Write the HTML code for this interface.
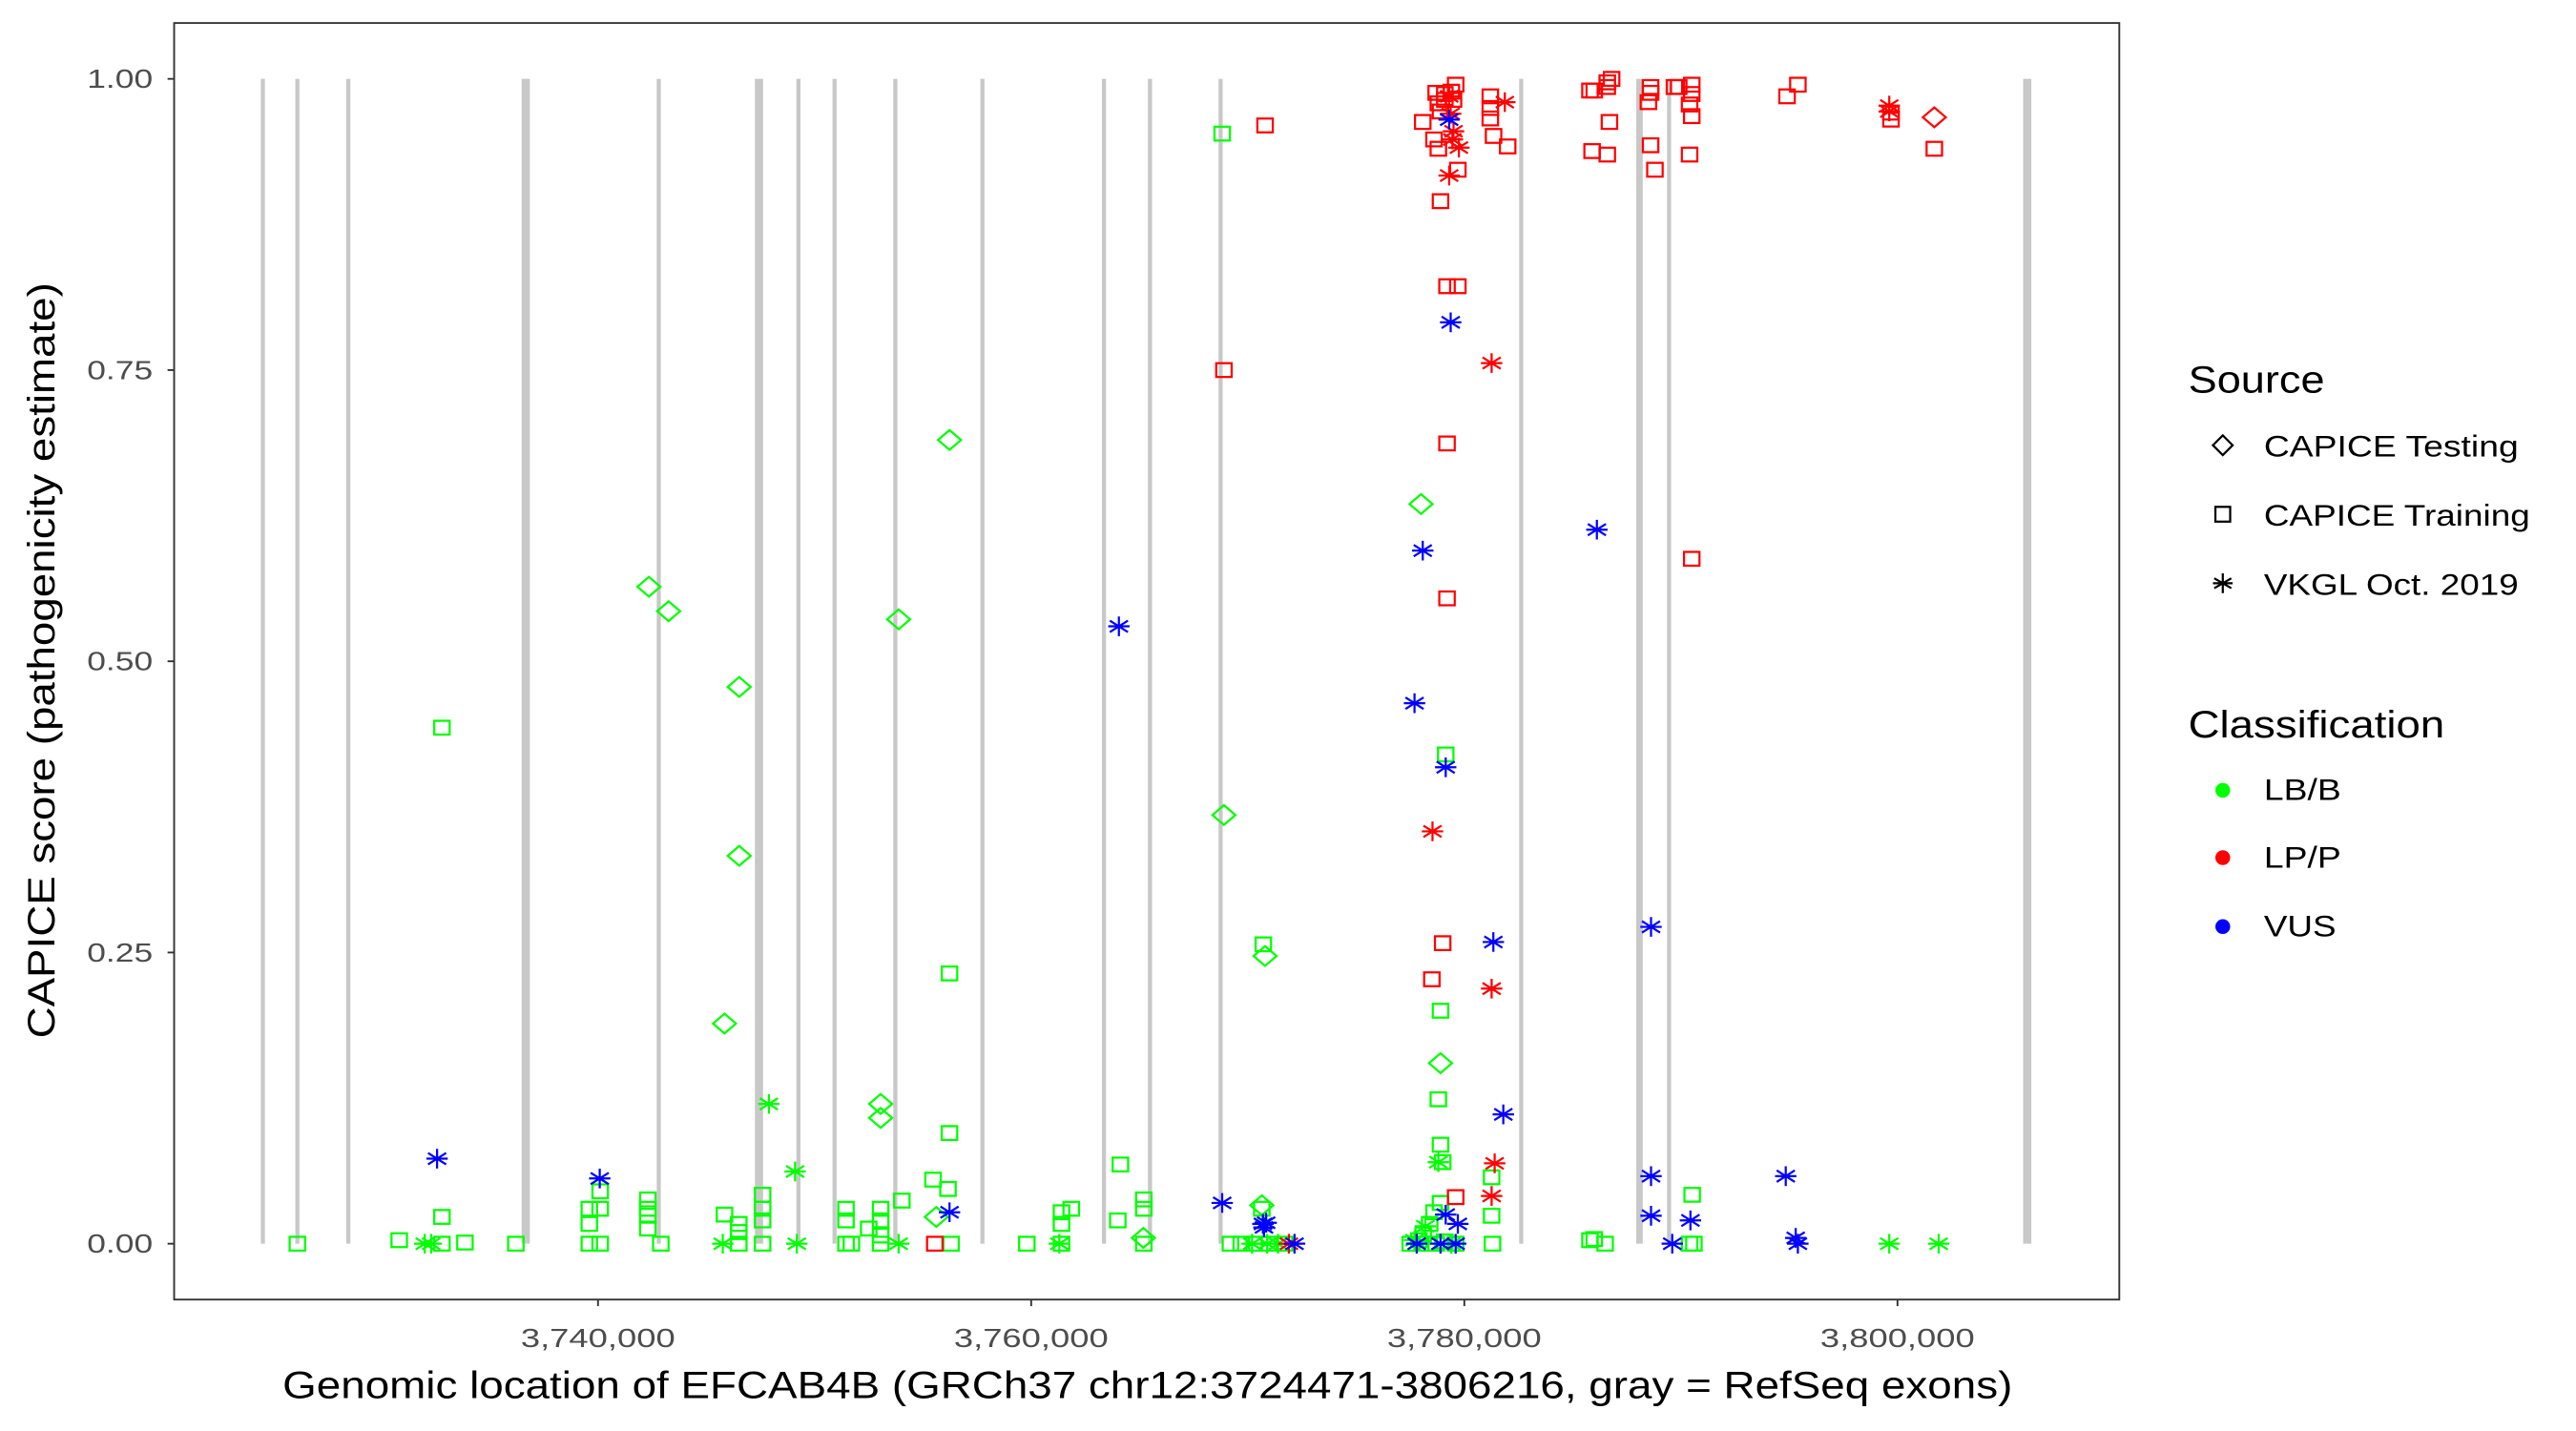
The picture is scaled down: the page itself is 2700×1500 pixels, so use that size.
<!DOCTYPE html>
<html><head><meta charset="utf-8"><style>
html,body{margin:0;padding:0;background:#fff;}
svg{display:block;font-family:"Liberation Sans",sans-serif;}
</style></head><body>
<svg id="chart" width="2700" height="1500" viewBox="0 0 1568 871" preserveAspectRatio="none" xmlns="http://www.w3.org/2000/svg">
<rect x="0" y="0" width="1568" height="871" fill="#fff"/>
<g id="exons"></g>
<g id="points"></g>
<rect x="106" y="14" width="1184" height="777" fill="none" stroke="#333" stroke-width="1.1"/>
<g id="yaxis"></g>
<g id="xaxis"></g>
<text x="172" y="851" font-size="23" textLength="1053" lengthAdjust="spacingAndGlyphs" fill="#000">Genomic location of EFCAB4B (GRCh37 chr12:3724471-3806216, gray = RefSeq exons)</text>
<text transform="translate(33,632) rotate(-90)" font-size="23" textLength="460" lengthAdjust="spacingAndGlyphs" fill="#000">CAPICE score (pathogenicity estimate)</text>
<g>
<text x="1332" y="239" font-size="23" textLength="83" lengthAdjust="spacingAndGlyphs">Source</text>
<g>
<path d="M1353,265 l6,6 l-6,6 l-6,-6 z" fill="none" stroke="#000" stroke-width="1.3"/>
<text x="1378" y="278" font-size="18.5" textLength="155" lengthAdjust="spacingAndGlyphs">CAPICE Testing</text></g>
<g>
<rect x="1348.5" y="308.5" width="9" height="9" fill="none" stroke="#000" stroke-width="1.3"/>
<text x="1378" y="320" font-size="18.5" textLength="162" lengthAdjust="spacingAndGlyphs">CAPICE Training</text></g>
<g>
<path d="M1353,349 v12 M1347.8,352 l10.4,6 M1347.8,358 l10.4,-6 M1347,355 h12" stroke="#000" stroke-width="1.3"/>
<text x="1378" y="362" font-size="18.5" textLength="155" lengthAdjust="spacingAndGlyphs">VKGL Oct. 2019</text></g>
<text x="1332" y="449" font-size="23" textLength="156" lengthAdjust="spacingAndGlyphs">Classification</text>
<g><circle cx="1353" cy="481" r="4.5" fill="#00ff00"/><text x="1378" y="487" font-size="18.5" textLength="47" lengthAdjust="spacingAndGlyphs">LB/B</text></g>
<g><circle cx="1353" cy="522" r="4.5" fill="#ff0000"/><text x="1378" y="528" font-size="18.5" textLength="47" lengthAdjust="spacingAndGlyphs">LP/P</text></g>
<g><circle cx="1353" cy="564" r="4.5" fill="#0000ff"/><text x="1378" y="570" font-size="18.5" textLength="44" lengthAdjust="spacingAndGlyphs">VUS</text></g>
</g>
</svg>
<script>
// ---- data ----
const xTicks = [3740000, 3760000, 3780000, 3800000];
const xTickLabels = ["3,740,000", "3,760,000", "3,780,000", "3,800,000"];
const yTicks = [0, 0.25, 0.5, 0.75, 1];
const yTickLabels = ["0.00", "0.25", "0.50", "0.75", "1.00"];
const exonPos = [3724527, 3726120, 3728471, 3736663, 3742806, 3747433, 3749254, 3750922, 3753729, 3757749, 3763362, 3765486, 3768747, 3782627, 3788088, 3789453, 3805988];
const exonLen = [190, 190, 190, 380, 190, 380, 190, 190, 190, 190, 190, 190, 190, 190, 300, 190, 380];

const trainLBPos = [3726120,3730822,3732794,3732794,3732794,3733856,3736207,3739600,3739600,3739600,3740100,3740100,3740100,3742300,3742300,3742300,3742300,3742900,3745840,3746500,3746500,3746500,3747600,3747600,3747600,3747600,3751450,3751450,3751450,3751700,3752500,3753050,3753050,3753050,3753050,3754030,3755470,3756160,3756230,3756230,3756300,3759800,3761400,3761400,3761400,3761850,3764120,3764000,3765200,3765200,3765200,3768820,3770720,3770650,3769200,3769700,3770300,3771000,3771700,3777500,3777900,3778300,3778700,3779100,3779600,3778100,3778400,3778600,3778900,3779140,3778900,3778800,3778900,3779000,3781260,3781260,3781300,3790520,3790400,3790600,3785800,3786000,3786500];
const trainLBScore = [0,0.003,0.443,0.023,0,0.001,0,0,0.017,0.03,0.045,0.03,0,0.038,0.024,0.013,0.03,0,0.025,0,0.01,0.017,0,0.02,0.03,0.042,0.02,0.03,0,0,0.013,0.02,0.03,0,0.007,0.037,0.055,0.047,0.232,0.095,0,0,0,0.017,0.027,0.03,0.068,0.02,0.03,0.038,0,0.953,0.257,0.03,0,0,0,0,0,0,0.003,0,0,0.002,0,0.008,0.017,0.027,0.035,0.42,0.2,0.124,0.085,0.07,0.057,0.024,0,0.042,0,0,0.003,0.004,0];

const trainLPPos = [3770800,3768900,3778080,3778700,3778800,3778900,3779100,3779400,3779600,3778600,3778800,3779100,3779500,3779700,3778900,3779200,3779700,3779200,3779200,3779000,3778500,3779600,3781200,3781200,3781200,3781350,3782000,3785800,3786000,3786600,3786800,3786600,3786700,3786600,3785900,3788600,3788600,3788500,3788600,3788800,3789700,3789900,3790500,3790500,3790400,3790500,3790400,3790500,3794900,3795400,3799700,3799700,3801700,3755550];
const trainLPScore = [0.96,0.75,0.963,0.988,0.979,0.972,0.987,0.989,0.995,0.948,0.94,0.982,0.982,0.922,0.895,0.822,0.822,0.687,0.554,0.258,0.227,0.04,0.985,0.975,0.966,0.951,0.942,0.99,0.99,0.997,1.0,0.993,0.963,0.935,0.938,0.993,0.988,0.98,0.943,0.922,0.993,0.993,0.995,0.987,0.978,0.968,0.935,0.588,0.985,0.995,0.965,0.971,0.94,0];

const vkglLPPos = [3779370,3779500,3779450,3779750,3779300,3779300,3781260,3778530,3781260,3781400,3781260,3781870,3799620,3799620,3771900];
const vkglLPScore = [0.97,0.955,0.948,0.941,0.917,0.985,0.756,0.354,0.219,0.069,0.041,0.98,0.977,0.972,0];

const testLPPos = [3801700];
const testLPScore = [0.967];

const vkglVUSPos = [3732570,3740080,3756230,3764050,3768820,3770700,3770850,3770750,3772160,3777700,3778080,3779370,3779300,3779140,3779140,3777800,3778900,3779600,3779700,3781340,3781800,3786120,3788620,3788620,3788620,3789600,3790440,3794840,3795300,3795400];
const vkglVUSScore = [0.073,0.056,0.027,0.53,0.035,0.017,0.018,0.014,0,0.464,0.595,0.791,0.965,0.409,0.025,0,0,0,0.017,0.259,0.111,0.613,0.272,0.058,0.024,0,0.02,0.058,0.005,0];

const testLBPos = [3742350,3743260,3746520,3746520,3745840,3756230,3753880,3753050,3753050,3755620,3765180,3768900,3770800,3770650,3778000,3778900];
const testLBScore = [0.564,0.543,0.478,0.333,0.189,0.69,0.536,0.12,0.108,0.023,0.005,0.368,0.247,0.033,0.635,0.155];

const vkglLBPos = [3732000,3732300,3745760,3747890,3749100,3749180,3753880,3761300,3770200,3770900,3771400,3777700,3778200,3778800,3779400,3799620,3801900];
const vkglLBScore = [0,0,0,0.12,0.062,0,0,0,0,0,0,0.003,0.015,0.07,0,0,0];

// ---- scales ----
const X0 = 3740000, PX0 = 364, PXPERBP = 791 / 60000;
function xs(p) { return PX0 + (p - X0) * PXPERBP; }
function ys(v) { return 757 - v * 709; }
const NS = "http://www.w3.org/2000/svg";
function mk(tag, attrs, parent) {
  const e = document.createElementNS(NS, tag);
  for (const k in attrs) e.setAttribute(k, attrs[k]);
  parent.appendChild(e);
  return e;
}

// exons
const gEx = document.getElementById('exons');
exonPos.forEach((p, i) => {
  const w = Math.max(2.5, exonLen[i] * PXPERBP);
  const r = mk('rect', {x: xs(p) - w / 2, y: ys(1), width: w, height: ys(0) - ys(1), fill: '#c8c8c8'}, gEx);
  
  
});

// axes
const gY = document.getElementById('yaxis');
yTicks.forEach((v, i) => {
  const y = ys(v);
  mk('line', {x1: 102, x2: 106, y1: y, y2: y, stroke: '#333', 'stroke-width': 1.1}, gY);
  const t = mk('text', {x: 53, y: y + 5.5, 'font-size': 16, textLength: 40, lengthAdjust: 'spacingAndGlyphs', fill: '#4d4d4d'}, gY);
  t.textContent = yTickLabels[i];
  
  
});
const gX = document.getElementById('xaxis');
xTicks.forEach((p, i) => {
  const x = xs(p);
  mk('line', {x1: x, x2: x, y1: 791, y2: 795, stroke: '#333', 'stroke-width': 1.1}, gX);
  const t = mk('text', {x: x - 47, y: 820, 'font-size': 16, textLength: 94, lengthAdjust: 'spacingAndGlyphs', fill: '#4d4d4d'}, gX);
  t.textContent = xTickLabels[i];
  
  
});

// markers
const gP = document.getElementById('points');
function square(x, y, c) { return mk('rect', {x: x - 4.7, y: y - 4.2, width: 9.4, height: 8.4, fill: 'none', stroke: c, 'stroke-width': 1.3}, gP); }
function diamond(x, y, c) { return mk('path', {d: `M${x},${y-6} l7,6 l-7,6 l-7,-6 z`, fill: 'none', stroke: c, 'stroke-width': 1.3}, gP); }
function star(x, y, c) { return mk('path', {d: `M${x},${y-6} v12 M${x-5.5},${y-3.5} l11,7 M${x-5.5},${y+3.5} l11,-7 M${x-6.5},${y} h13`, stroke: c, 'stroke-width': 1.3, fill: 'none'}, gP); }
function drawSeries(pos, score, fn, color, name) {
  pos.forEach((p, i) => {
    const e = fn(xs(p), ys(score[i]), color);
    
    
  });
}
drawSeries(trainLBPos, trainLBScore, square, '#00ff00', 'point-training-lbb');
drawSeries(testLBPos, testLBScore, diamond, '#00ff00', 'point-testing-lbb');
drawSeries(vkglLBPos, vkglLBScore, star, '#00ff00', 'point-vkgl-lbb');
drawSeries(trainLPPos, trainLPScore, square, '#ff0000', 'point-training-lpp');
drawSeries(testLPPos, testLPScore, diamond, '#ff0000', 'point-testing-lpp');
drawSeries(vkglLPPos, vkglLPScore, star, '#ff0000', 'point-vkgl-lpp');
drawSeries(vkglVUSPos, vkglVUSScore, star, '#0000ff', 'point-vkgl-vus');
</script>
</body></html>
